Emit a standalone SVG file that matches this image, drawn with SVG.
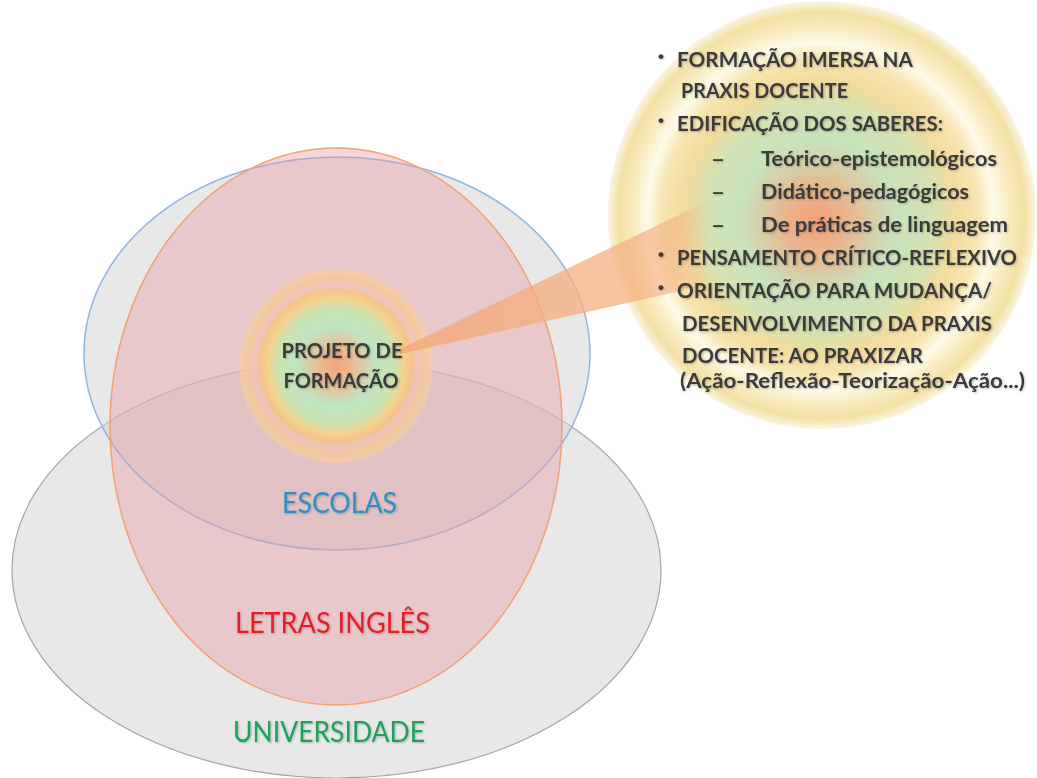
<svg xmlns="http://www.w3.org/2000/svg" width="1037" height="778" viewBox="0 0 1037 778">
<defs>
<style>
.lbl{font-family:Lato,"Liberation Sans",sans-serif;font-size:28px;}
.t{font-family:Lato,"Liberation Sans",sans-serif;font-weight:bold;font-size:20.5px;fill:#3a3a3a;}
.b{font-family:"Liberation Sans",sans-serif;font-weight:bold;font-size:17px;fill:#3a3a3a;}
</style>
<radialGradient id="gBig" gradientUnits="userSpaceOnUse" cx="822" cy="215" r="214" fx="815" fy="222">
<stop offset="0" stop-color="#f2a078"/>
<stop offset="0.14" stop-color="#eab48c"/>
<stop offset="0.36" stop-color="#c9e2bd"/>
<stop offset="0.52" stop-color="#d3e3b4"/>
<stop offset="0.64" stop-color="#f2dc9e"/>
<stop offset="0.74" stop-color="#f7e6b2"/>
<stop offset="0.81" stop-color="#fefaea"/>
<stop offset="0.87" stop-color="#f9eec4"/>
<stop offset="0.95" stop-color="#f2e0a4"/>
<stop offset="1" stop-color="#f4e6b4" stop-opacity="0.4"/>
</radialGradient>
<radialGradient id="gProj" gradientUnits="userSpaceOnUse" cx="336" cy="366" r="97">
<stop offset="0" stop-color="#f3a37a"/>
<stop offset="0.2" stop-color="#e8bf98"/>
<stop offset="0.42" stop-color="#bfe6c4"/>
<stop offset="0.6" stop-color="#cce3b2"/>
<stop offset="0.7" stop-color="#f3d48e"/>
<stop offset="0.78" stop-color="#f5c384" stop-opacity="0.9"/>
<stop offset="0.84" stop-color="#efc4bc" stop-opacity="0.7"/>
<stop offset="0.9" stop-color="#f6c890" stop-opacity="0.85"/>
<stop offset="1" stop-color="#f7d0a0" stop-opacity="0.55"/>
</radialGradient>
<linearGradient id="gWedge" gradientUnits="userSpaceOnUse" x1="400" y1="0" x2="712" y2="0">
<stop offset="0" stop-color="#f4a878" stop-opacity="0.8"/>
<stop offset="0.7" stop-color="#f4b083" stop-opacity="0.75"/>
<stop offset="0.88" stop-color="#f4b083" stop-opacity="0.6"/>
<stop offset="1" stop-color="#f4b083" stop-opacity="0"/>
</linearGradient>
<filter id="sh" x="-5%" y="-20%" width="110%" height="140%">
<feDropShadow dx="1" dy="1" stdDeviation="0.8" flood-color="#000" flood-opacity="0.25"/>
</filter>
</defs>
<rect width="1037" height="778" fill="#ffffff"/>

<g id="universidade">
<ellipse cx="336.5" cy="570" rx="324.5" ry="208" fill="#d2d2d2" fill-opacity="0.5" stroke="#a6a6a6" stroke-width="1.2"/>
</g>
<g id="escolas">
<ellipse cx="337" cy="353.5" rx="253" ry="196.5" fill="#d2d2d2" fill-opacity="0.5" stroke="#8fb6e0" stroke-width="1.5"/>
</g>
<g id="letras">
<ellipse cx="336" cy="426.5" rx="226" ry="278.5" fill="#e8989d" fill-opacity="0.4" stroke="#f2a272" stroke-width="1.5"/>
</g>

<g id="projeto">
<circle cx="336" cy="366" r="97" fill="url(#gProj)"/>
</g>

<g id="detalhes">
<circle cx="822" cy="215" r="214" fill="url(#gBig)"/>
</g>

<g id="connectors">
<polygon points="400,349 712,199 712,284 400,354" fill="url(#gWedge)"/>
</g>

<g id="projeto-text" filter="url(#sh)">
<text class="t" x="342" y="358" text-anchor="middle" textLength="121" lengthAdjust="spacingAndGlyphs">PROJETO DE</text>
<text class="t" x="341" y="388" text-anchor="middle" textLength="115" lengthAdjust="spacingAndGlyphs">FORMAÇÃO</text>
</g>

<g id="labels" filter="url(#sh)">
<text class="lbl" x="339.5" y="513" fill="#2f8fc4" text-anchor="middle" textLength="115" lengthAdjust="spacingAndGlyphs">ESCOLAS</text>
<text class="lbl" x="332.5" y="633" fill="#e61e28" text-anchor="middle" textLength="195" lengthAdjust="spacingAndGlyphs">LETRAS INGLÊS</text>
<text class="lbl" x="329" y="742" fill="#1fa25a" text-anchor="middle" textLength="192" lengthAdjust="spacingAndGlyphs">UNIVERSIDADE</text>
</g>

<g id="detalhes-text" filter="url(#sh)">
<text class="b" x="658" y="62">•</text>
<text class="t" x="677" y="67" textLength="236" lengthAdjust="spacingAndGlyphs">FORMAÇÃO IMERSA NA</text>
<text class="t" x="681" y="98" textLength="167" lengthAdjust="spacingAndGlyphs">PRAXIS DOCENTE</text>
<text class="b" x="658" y="126">•</text>
<text class="t" x="677" y="131" textLength="266" lengthAdjust="spacingAndGlyphs">EDIFICAÇÃO DOS SABERES:</text>
<text class="t" x="711" y="166" textLength="14" lengthAdjust="spacingAndGlyphs">–</text>
<text class="t" x="761" y="166" textLength="236" lengthAdjust="spacingAndGlyphs">Teórico-epistemológicos</text>
<text class="t" x="711" y="199" textLength="14" lengthAdjust="spacingAndGlyphs">–</text>
<text class="t" x="761" y="199" textLength="208" lengthAdjust="spacingAndGlyphs">Didático-pedagógicos</text>
<text class="t" x="711" y="232" textLength="14" lengthAdjust="spacingAndGlyphs">–</text>
<text class="t" x="761" y="232" textLength="247" lengthAdjust="spacingAndGlyphs">De práticas  de linguagem</text>
<text class="b" x="658" y="260">•</text>
<text class="t" x="677" y="265" textLength="340" lengthAdjust="spacingAndGlyphs">PENSAMENTO CRÍTICO-REFLEXIVO</text>
<text class="b" x="658" y="293">•</text>
<text class="t" x="677" y="298" textLength="315" lengthAdjust="spacingAndGlyphs">ORIENTAÇÃO PARA  MUDANÇA/</text>
<text class="t" x="682" y="331" textLength="310" lengthAdjust="spacingAndGlyphs">DESENVOLVIMENTO DA PRAXIS</text>
<text class="t" x="682" y="363" textLength="241" lengthAdjust="spacingAndGlyphs">DOCENTE: AO  PRAXIZAR</text>
<text class="t" x="680" y="388" textLength="345" lengthAdjust="spacingAndGlyphs">(Ação-Reflexão-Teorização-Ação...)</text>
</g>
</svg>
